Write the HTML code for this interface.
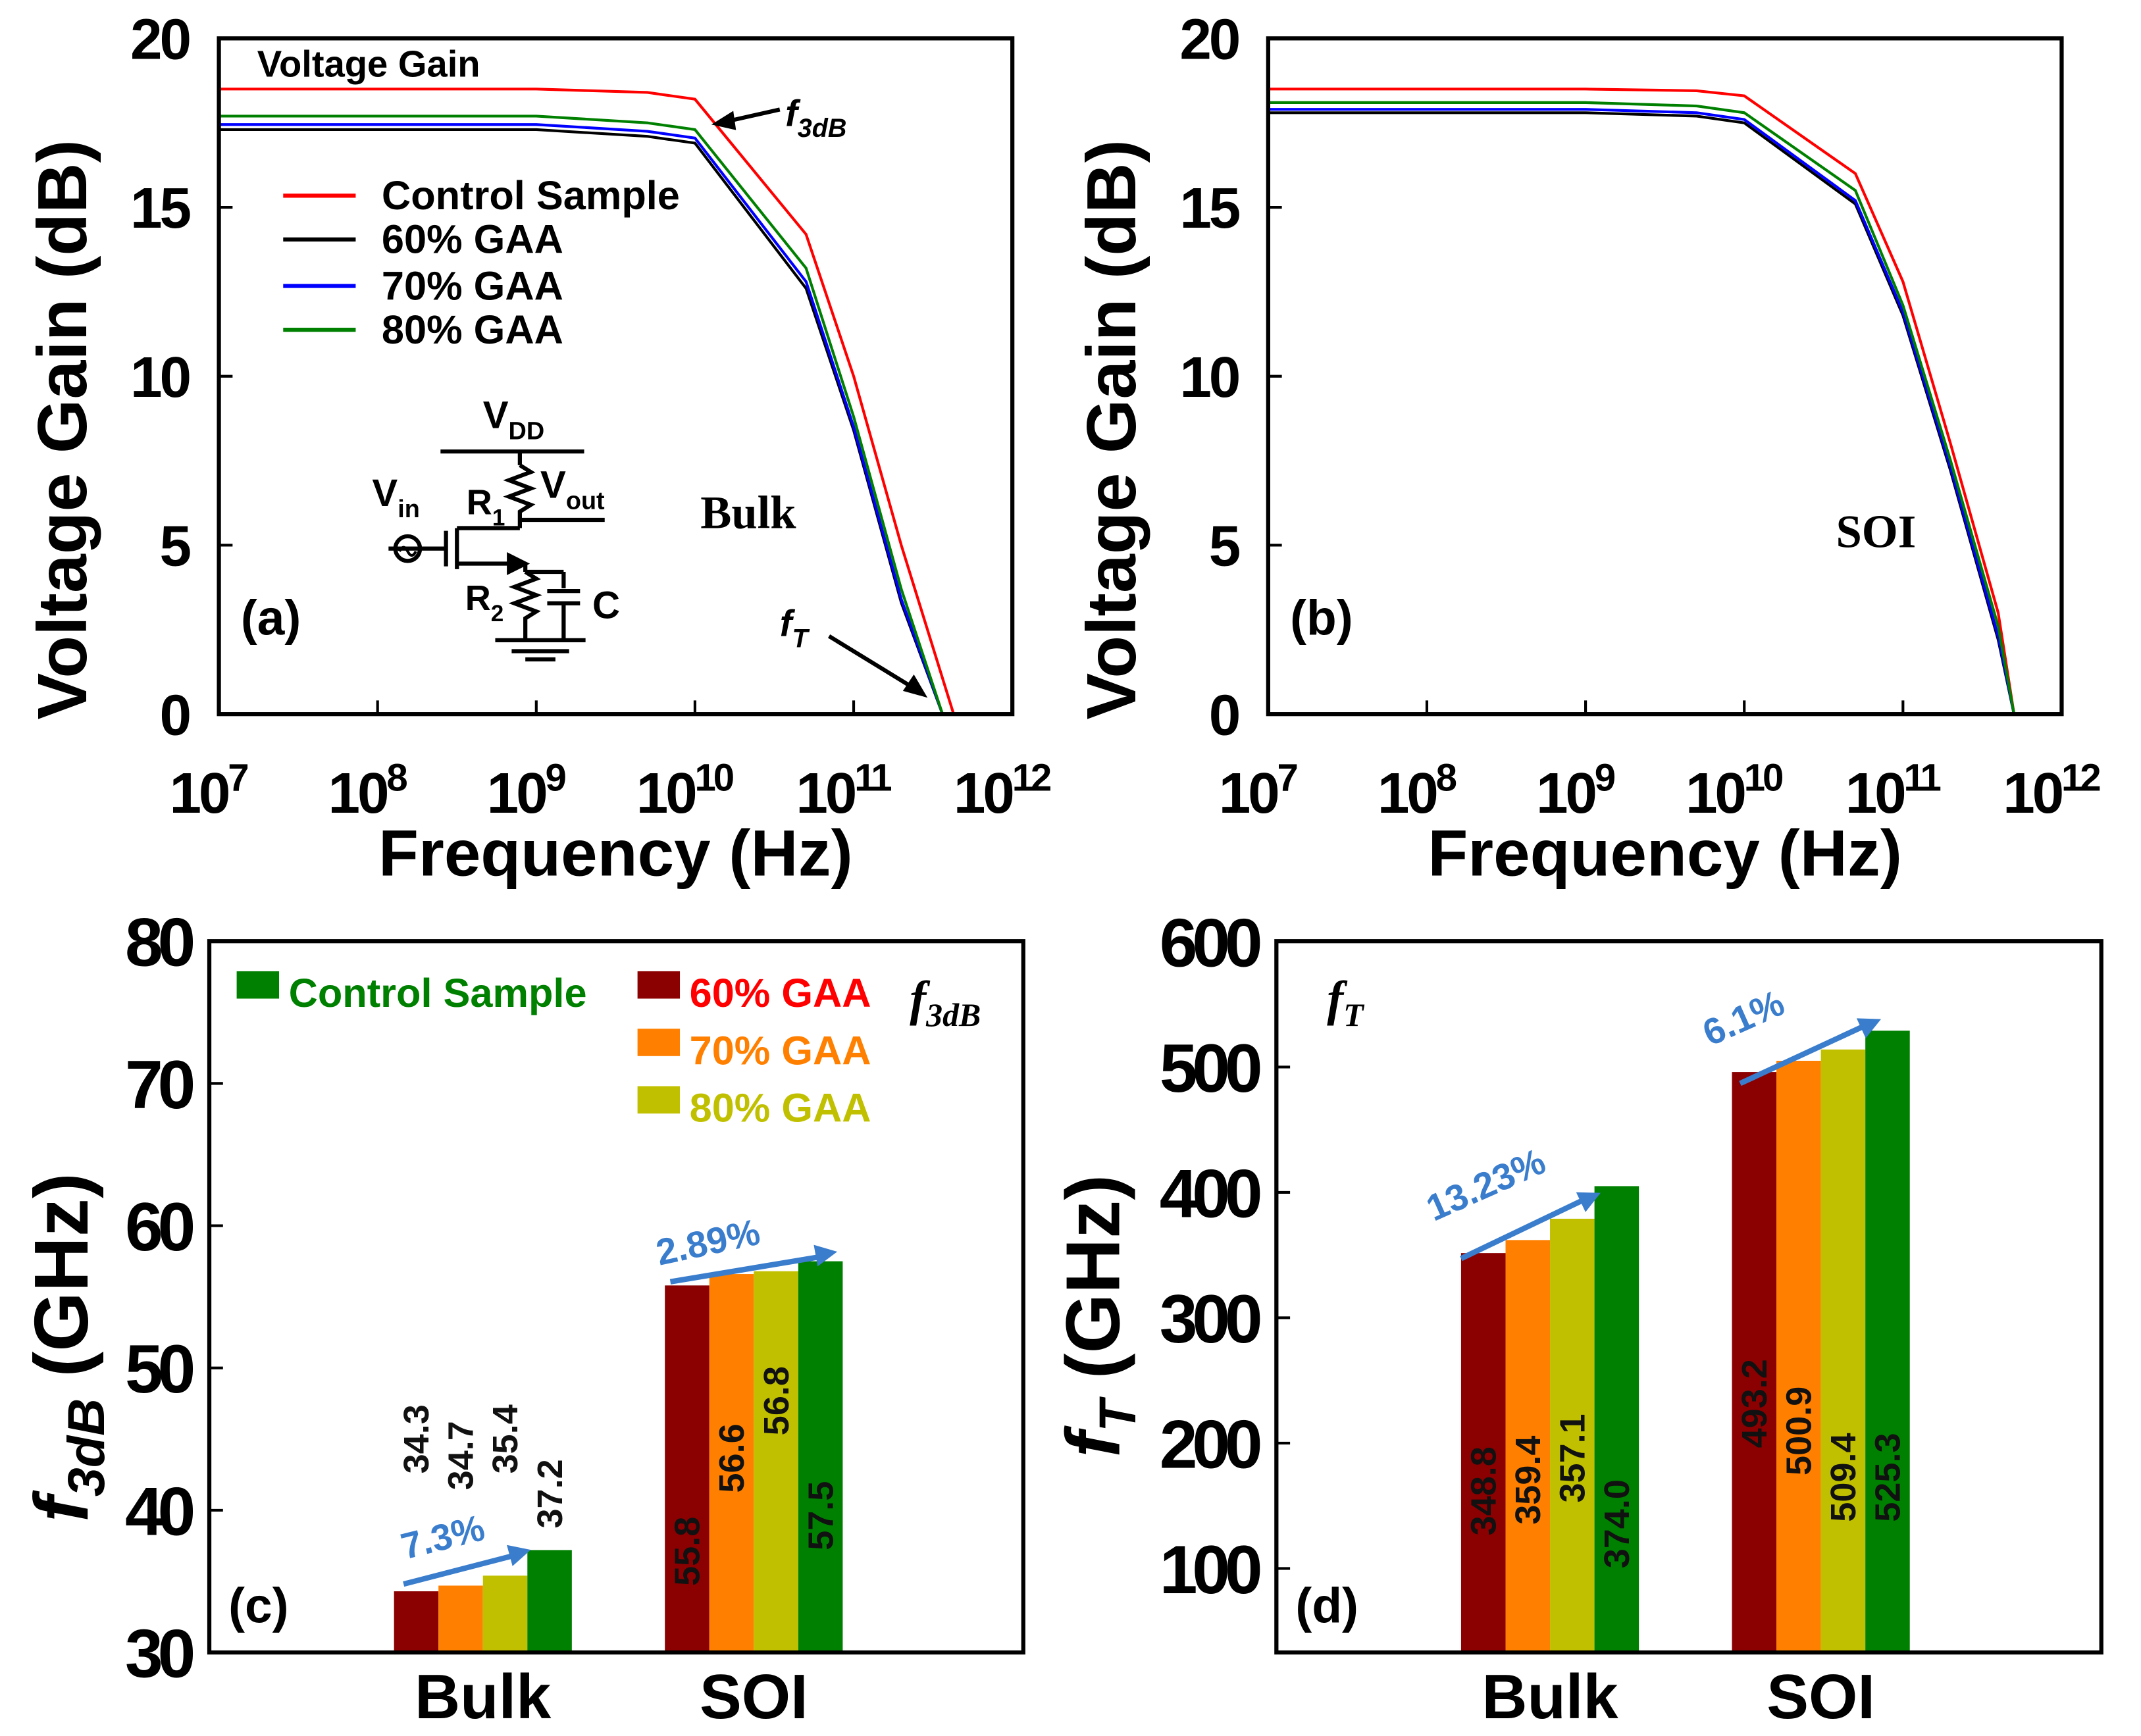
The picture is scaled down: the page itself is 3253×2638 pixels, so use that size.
<!DOCTYPE html>
<html><head><meta charset="utf-8"><style>
html,body{margin:0;padding:0;background:#fff}
svg{display:block}
text{font-family:"Liberation Sans",sans-serif;font-weight:bold}
</style></head><body>
<svg id="fig" width="3253" height="2638" viewBox="0 0 1565 1269" xmlns="http://www.w3.org/2000/svg"></svg>
<script>
// ---- data ----
const decadeTicks = [7, 8, 9, 10, 11, 12];
const gainTicks = [0, 5, 10, 15, 20];
const seriesNames = ["Control Sample", "60% GAA", "70% GAA", "80% GAA"];
const seriesColors = ["#ff0000", "#000000", "#0000ff", "#008000"];
// panel (a) Bulk: log10(f), gain
const bulkLogFControl = [7, 9, 9.7, 10, 10.7, 11, 11.3, 11.63];
const bulkLogFOther = [7, 9, 9.7, 10, 10.7, 11, 11.3, 11.56];
const bulkControl = [18.5, 18.5, 18.4, 18.2, 14.2, 10.0, 5.0, 0];
const bulk60 = [17.3, 17.3, 17.1, 16.9, 12.6, 8.4, 3.3, 0];
const bulk70 = [17.45, 17.45, 17.25, 17.05, 12.8, 8.5, 3.4, 0];
const bulk80 = [17.7, 17.7, 17.5, 17.3, 13.2, 8.8, 3.7, 0];
// panel (b) SOI
const soiLogF = [7, 9, 9.7, 10, 10.7, 11, 11.3, 11.6, 11.7];
const soiControl = [18.5, 18.5, 18.45, 18.3, 16.0, 12.8, 8.0, 3.0, 0];
const soi60 = [17.8, 17.8, 17.7, 17.5, 15.1, 11.8, 7.2, 2.2, 0];
const soi70 = [17.9, 17.9, 17.8, 17.6, 15.2, 11.9, 7.3, 2.3, 0];
const soi80 = [18.1, 18.1, 18.0, 17.8, 15.5, 12.1, 7.5, 2.6, 0];
// panel (c) f3dB
const categories = ["Bulk", "SOI"];
const barColors = ["#8b0000", "#ff8000", "#c0c000", "#008000"];
const f3dbTicks = [30, 40, 50, 60, 70, 80];
const f3dbBulk = [34.3, 34.7, 35.4, 37.2];
const f3dbSoi = [55.8, 56.6, 56.8, 57.5];
// panel (d) fT
const ftTicks = [100, 200, 300, 400, 500, 600];
const ftBulk = [351.6, 362, 379, 405];
const ftSoi = [496, 505, 514, 529];
const ftBulkLabels = ["348.8", "359.4", "357.1", "374.0"];
const ftSoiLabels = ["493.2", "500.9", "509.4", "525.3"];

const svg = document.getElementById('fig');
const NS = "http://www.w3.org/2000/svg";
function mk(tag, attrs, parent, txt) {
  const e = document.createElementNS(NS, tag);
  for (const k in attrs) e.setAttribute(k, attrs[k]);
  if (txt !== undefined) e.textContent = txt;
  (parent || svg).appendChild(e);
  return e;
}

// ---- line panels ----
function linePanel(id, x0, x1, y0, y1, logFs, series, label) {
  const g = mk('g', {});
  
  
  const xs = v => x0 + (v - 7) / 5 * (x1 - x0);
  const ys = v => y1 - v / 20 * (y1 - y0);
  series.forEach((s, i) => {
    const lf = logFs[i];
    const p = mk('polyline', {points: lf.map((f, j) => xs(f) + ',' + ys(s[j])).join(' '), fill: 'none', stroke: seriesColors[i], 'stroke-width': 2}, g);
    
    
  });
  const box = mk('rect', {x: x0, y: y0, width: x1 - x0, height: y1 - y0, fill: 'none', stroke: '#000', 'stroke-width': 3}, g);
  
  
  decadeTicks.forEach(d => {
    const x = xs(d);
    mk('line', {x1: x, x2: x, y1: y1, y2: y1 - 10, stroke: '#000', 'stroke-width': 2}, g);
    const t = mk('text', {x: x - 8, y: y1 + 72, 'font-size': 42, 'text-anchor': 'middle', 'letter-spacing': -2}, g);
    
    
    mk('tspan', {}, t, '10');
    mk('tspan', {dy: -16, 'font-size': 28}, t, String(d));
  });
  gainTicks.forEach(v => {
    const y = ys(v);
    mk('line', {x1: x0, x2: x0 + 10, y1: y, y2: y, stroke: '#000', 'stroke-width': 2}, g);
    const t = mk('text', {x: x0 - 22, y: y + 15, 'font-size': 42, 'text-anchor': 'end', 'letter-spacing': -2}, g, String(v));
    
    
  });
  const xt = mk('text', {x: (x0 + x1) / 2, y: y1 + 118, 'font-size': 48, 'text-anchor': 'middle'}, g, 'Frequency (Hz)');
  
  
  const yt = mk('text', {transform: `translate(${x0 - 97},314) rotate(-90)`, 'font-size': 51, 'text-anchor': 'middle'}, g, 'Voltage Gain (dB)');
  
  
  const pl = mk('text', {x: x0 + 16, y: y1 - 58, 'font-size': 36}, g, label);
  
  
}
linePanel('bulk-gain', 160, 740, 28, 522, [bulkLogFControl, bulkLogFOther, bulkLogFOther, bulkLogFOther], [bulkControl, bulk60, bulk70, bulk80], '(a)');
linePanel('soi-gain', 927, 1507, 28, 522, [soiLogF, soiLogF, soiLogF, soiLogF], [soiControl, soi60, soi70, soi80], '(b)');

// annotations panel (a)
let t;
t = mk('text', {x: 188, y: 56, 'font-size': 27}, svg, 'Voltage Gain');
 
[143, 175, 209, 241].forEach((y, i) => {
  const l = mk('line', {x1: 207, x2: 260, y1: y, y2: y, stroke: seriesColors[i], 'stroke-width': 3});
   
  const tx = mk('text', {x: 279, y: y + 10, 'font-size': 29.5}, svg, seriesNames[i]);
   
});
mk('line', {x1: 570, y1: 80, x2: 530, y2: 89, stroke: '#000', 'stroke-width': 3});
mk('polygon', {points: '520,91 536,81 538,95', fill: '#000'});
t = mk('text', {x: 574, y: 92, 'font-size': 27, 'font-style': 'italic'}, svg);
 
mk('tspan', {}, t, 'f'); mk('tspan', {dy: 8, 'font-size': 19}, t, '3dB');
mk('line', {x1: 606, y1: 465, x2: 668, y2: 503, stroke: '#000', 'stroke-width': 3});
mk('polygon', {points: '678,510 660,505 668,493', fill: '#000'});
t = mk('text', {x: 570, y: 465, 'font-size': 27, 'font-style': 'italic'}, svg);
 
mk('tspan', {}, t, 'f'); mk('tspan', {dy: 8, 'font-size': 19}, t, 'T');
t = mk('text', {x: 512, y: 386, 'font-size': 34, style: 'font-family:"Liberation Serif",serif'}, svg, 'Bulk');
 
t = mk('text', {x: 1342, y: 400, 'font-size': 34, style: 'font-family:"Liberation Serif",serif'}, svg, 'SOI');
 

// circuit inset
const c = mk('g', {stroke: '#000', 'stroke-width': 3, fill: 'none'});
 
mk('line', {x1: 322, y1: 330, x2: 427, y2: 330}, c);
mk('line', {x1: 380, y1: 330, x2: 380, y2: 340}, c);
mk('polyline', {points: '380,340 388,345 372,351 388,357 372,363 388,369 380,374 380,380'}, c);
mk('line', {x1: 380, y1: 380, x2: 442, y2: 380}, c);
mk('line', {x1: 334, y1: 386, x2: 380, y2: 386}, c);
mk('line', {x1: 380, y1: 380, x2: 380, y2: 386}, c);
mk('line', {x1: 334, y1: 386, x2: 334, y2: 416}, c);
mk('line', {x1: 326, y1: 388, x2: 326, y2: 414}, c);
mk('line', {x1: 334, y1: 412, x2: 376, y2: 412}, c);
mk('polygon', {points: '384,412 372,406 372,418', fill: '#000'}, c);
mk('line', {x1: 284, y1: 401, x2: 326, y2: 401}, c);
mk('circle', {cx: 298, cy: 401, r: 9}, c);
mk('path', {d: 'M292,403 q3,-6 6,0 q3,6 6,0', 'stroke-width': 2}, c);
mk('line', {x1: 384, y1: 412, x2: 384, y2: 418}, c);
mk('polyline', {points: '384,418 392,423 376,429 392,435 376,441 392,447 384,452 384,468'}, c);
mk('line', {x1: 384, y1: 418, x2: 412, y2: 418}, c);
mk('line', {x1: 412, y1: 418, x2: 412, y2: 430}, c);
mk('line', {x1: 400, y1: 432, x2: 424, y2: 432}, c);
mk('line', {x1: 400, y1: 441, x2: 424, y2: 441}, c);
mk('line', {x1: 412, y1: 441, x2: 412, y2: 468}, c);
mk('line', {x1: 362, y1: 468, x2: 428, y2: 468}, c);
mk('line', {x1: 374, y1: 476, x2: 416, y2: 476}, c);
mk('line', {x1: 384, y1: 482, x2: 406, y2: 482}, c);
function sub(x, y, main, s, fs) {
  const tt = mk('text', {x: x, y: y, 'font-size': fs});
   
  mk('tspan', {}, tt, main); mk('tspan', {dy: 8, 'font-size': fs * 0.65}, tt, s);
}
sub(353, 313, 'V', 'DD', 28); sub(272, 370, 'V', 'in', 28); sub(395, 364, 'V', 'out', 28);
sub(341, 376, 'R', '1', 26); sub(340, 446, 'R', '2', 26);
t = mk('text', {x: 433, y: 452, 'font-size': 28}, svg, 'C');
 

// ---- bar panels ----
// labelCenters: layout positions (y of label centre) for readability
function barPanel(id, x0, x1, y0, y1, vmin, vmax, ticks, groups, centers, labels, label, labelCenters) {
  const g = mk('g', {});
  
  
  const ys = v => y1 - (v - vmin) / (vmax - vmin) * (y1 - y0);
  const bw = 32.5;
  groups.forEach((vals, gi) => {
    vals.forEach((v, i) => {
      const x = centers[gi] - 2 * bw + i * bw;
      const r = mk('rect', {x: x, y: ys(v), width: bw, height: y1 - ys(v), fill: barColors[i]}, g);
      
      
      const lx = x + bw / 2 + 9;
      const tl = mk('text', {transform: `translate(${lx},${labelCenters[gi][i]}) rotate(-90)`, 'font-size': 26, 'text-anchor': 'middle', fill: '#111'}, g, labels[gi][i]);
      
      
    });
  });
  const box = mk('rect', {x: x0, y: y0, width: x1 - x0, height: y1 - y0, fill: 'none', stroke: '#000', 'stroke-width': 3}, g);
   
  ticks.forEach(v => {
    const y = ys(v);
    mk('line', {x1: x0, x2: x0 + 10, y1: y, y2: y, stroke: '#000', 'stroke-width': 2}, g);
    const tt = mk('text', {x: x0 - 14, y: y + 18, 'font-size': 50, 'text-anchor': 'end', 'letter-spacing': -4}, g, String(v));
     
  });
  categories.forEach((cName, i) => {
    const tt = mk('text', {x: centers[i], y: y1 + 48, 'font-size': 46, 'text-anchor': 'middle'}, g, cName);
     
  });
  const pl = mk('text', {x: x0 + 14, y: y1 - 22, 'font-size': 36}, g, label);
   
}
barPanel('f3db', 153, 748, 688, 1208, 30, 80, f3dbTicks, [f3dbBulk, f3dbSoi], [353, 551],
  [f3dbBulk.map(v => v.toFixed(1)), f3dbSoi.map(v => v.toFixed(1))], '(c)',
  [[1052, 1064, 1052, 1092], [1134, 1066, 1024, 1108]]);
barPanel('ft', 933, 1536, 688, 1208, 33, 600.4, ftTicks, [ftBulk, ftSoi], [1133, 1331],
  [ftBulkLabels, ftSoiLabels], '(d)',
  [[1090, 1082, 1066, 1114], [1026, 1046, 1080, 1080]]);

// axis titles (c)/(d)
t = mk('text', {transform: 'translate(64,985) rotate(-90)', 'font-size': 56, 'text-anchor': 'middle'});
 
mk('tspan', {'font-style': 'italic'}, t, 'f'); mk('tspan', {dy: 12, 'font-size': 38, 'font-style': 'italic'}, t, '3dB');
mk('tspan', {dy: -12}, t, ' (GHz)');
t = mk('text', {transform: 'translate(818,962) rotate(-90)', 'font-size': 56, 'text-anchor': 'middle'});
 
mk('tspan', {'font-style': 'italic'}, t, 'f'); mk('tspan', {dy: 12, 'font-size': 38, 'font-style': 'italic'}, t, 'T');
mk('tspan', {dy: -12}, t, ' (GHz)');

// legend (c)
const legC = [["#008000", 'Control Sample', 173, 724, "#008000"], ["#8b0000", '60% GAA', 466, 724, "#ff0000"], ["#ff8000", '70% GAA', 466, 766, "#ff8000"], ["#c0c000", '80% GAA', 466, 808, "#c0c000"]];
legC.forEach(l => {
  const r = mk('rect', {x: l[2], y: l[3] - 14, width: 31, height: 20, fill: l[0]});
   
  const tx = mk('text', {x: l[2] + 38, y: l[3] + 12, 'font-size': 29.5, fill: l[4]}, svg, l[1]);
   
});
t = mk('text', {x: 665, y: 742, 'font-size': 36, 'font-style': 'italic', style: 'font-family:"Liberation Serif",serif'});
 
mk('tspan', {}, t, 'f'); mk('tspan', {dy: 8, 'font-size': 24}, t, '3dB');
t = mk('text', {x: 970, y: 742, 'font-size': 36, 'font-style': 'italic', style: 'font-family:"Liberation Serif",serif'});
 
mk('tspan', {}, t, 'f'); mk('tspan', {dy: 8, 'font-size': 24}, t, 'T');

// blue arrows
function arrow(x1, y1, x2, y2, txt, tx, ty, rot) {
  mk('line', {x1: x1, y1: y1, x2: x2 - 8, y2: y2 + 3, stroke: '#3a7dcc', 'stroke-width': 4});
  const a = Math.atan2(y2 - y1, x2 - x1);
  const p = [[x2, y2], [x2 - 16 * Math.cos(a) + 8 * Math.sin(a), y2 - 16 * Math.sin(a) - 8 * Math.cos(a)], [x2 - 16 * Math.cos(a) - 8 * Math.sin(a), y2 - 16 * Math.sin(a) + 8 * Math.cos(a)]];
  const pg = mk('polygon', {points: p.map(q => q.join(',')).join(' '), fill: '#3a7dcc'});
   
  const tt = mk('text', {transform: `translate(${tx},${ty}) rotate(${rot})`, 'font-size': 27, fill: '#3a7dcc'}, svg, txt);
   
}
arrow(295, 1158, 388, 1133, '7.3%', 296, 1140, -14);
arrow(490, 937, 612, 915, '2.89%', 482, 925, -12);
arrow(1068, 920, 1170, 872, '13.23%', 1048, 893, -24);
arrow(1272, 792, 1375, 745, '6.1%', 1250, 765, -24);
</script>
</body></html>
